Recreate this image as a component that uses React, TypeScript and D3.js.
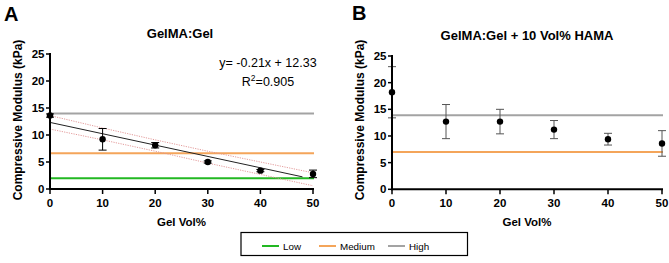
import React from "react";
import * as d3 from "d3";

const gelVol = [0, 10, 20, 30, 40, 50];
const meanA = [13.6, 9.2, 8.1, 5.0, 3.4, 2.8];
const errA = [0.3, 2.0, 0.5, 0.2, 0.2, 0.7];
const ciUpperA = [13.6, 11.3, 9.1, 7.0, 5.0, 3.0];
const ciLowerA = [11.1, 9.1, 7.0, 4.8, 2.7, 0.6];
const fitSlope = -0.21;
const fitIntercept = 12.33;
const fitRange = [0, 48];
const meanB = [18.2, 12.7, 12.7, 11.2, 9.4, 8.6];
const errB = [4.8, 3.2, 2.3, 1.7, 1.1, 2.4];
const refA = { Low: 2.0, Medium: 6.6, High: 14.0 };
const refB = { Medium: 7.0, High: 13.9 };
const yTicks = [0, 5, 10, 15, 20, 25];
const xTicks = [0, 10, 20, 30, 40, 50];
const legendItems = ["Low", "Medium", "High"];
const colors: Record<string, string> = { Low: "#22b822", Medium: "#f4a55a", High: "#a3a3a3" };

const FONT = "'Liberation Sans', Arial, sans-serif";

function Panel({ x0, x1, y0, y1, title, titleX, titleY, letter, letterX, letterY, means, errs, errColor, refs, showFit }: any) {
  const x = d3.scaleLinear().domain([0, 50]).range([x0, x1]);
  const y = d3.scaleLinear().domain([0, 25]).range([y0, y1]);
  const line = d3.line<number>().x((_, i) => x(gelVol[i])).y((d) => y(d));
  const labelX = x0 - 28;
  return (
    <g fontFamily={FONT}>
      <text x={letterX} y={letterY} fontSize={20} fontWeight="bold">{letter}</text>
      <text x={titleX} y={titleY} fontSize={13} fontWeight="bold" textAnchor="middle">{title}</text>
      {Object.entries(refs).map(([k, v]: any) => (
        <line key={k} x1={x(0)} x2={x(50) + 1} y1={y(v)} y2={y(v)} stroke={colors[k]} strokeWidth={2} />
      ))}
      {showFit && (
        <g>
          <path d={line(ciUpperA) || ""} fill="none" stroke="#e09090" strokeWidth={0.9} strokeDasharray="1.2,1.2" />
          <path d={line(ciLowerA) || ""} fill="none" stroke="#e09090" strokeWidth={0.9} strokeDasharray="1.2,1.2" />
          <line x1={x(fitRange[0])} x2={x(fitRange[1])} y1={y(fitIntercept + fitSlope * fitRange[0])} y2={y(fitIntercept + fitSlope * fitRange[1])} stroke="#222" strokeWidth={1} />
          <text x={268} y={66.5} fontSize={12.5} textAnchor="middle">y= -0.21x + 12.33</text>
          <text x={268} y={85.5} fontSize={12.5} textAnchor="middle">R<tspan fontSize={8.5} dy={-5}>2</tspan><tspan dy={5}>=0.905</tspan></text>
        </g>
      )}
      {means.map((m: number, i: number) => {
        const cx = x(gelVol[i]);
        const e = errs[i];
        return (
          <g key={i}>
            <line x1={cx} x2={cx} y1={y(m - e)} y2={y(m + e)} stroke={errColor} strokeWidth={1} />
            <line x1={cx - 4} x2={cx + 4} y1={y(m - e)} y2={y(m - e)} stroke={errColor} strokeWidth={1} />
            <line x1={cx - 4} x2={cx + 4} y1={y(m + e)} y2={y(m + e)} stroke={errColor} strokeWidth={1} />
            <circle cx={cx} cy={y(m)} r={3.2} fill="#000" />
          </g>
        );
      })}
      <line x1={x0} x2={x0} y1={y0 + 1} y2={y1 - 1} stroke="#000" strokeWidth={2} />
      <line x1={x0 - 1} x2={x1 + 1} y1={y0} y2={y0} stroke="#000" strokeWidth={2} />
      {yTicks.map((t) => (
        <g key={t}>
          <line x1={x0 - 4} x2={x0} y1={y(t)} y2={y(t)} stroke="#000" strokeWidth={1.5} />
          <text x={x0 - 5.5} y={y(t) + 4} fontSize={11.5} fontWeight="bold" textAnchor="end">{t}</text>
        </g>
      ))}
      {xTicks.map((t) => (
        <g key={t}>
          <line x1={x(t)} x2={x(t)} y1={y0} y2={y0 + 5} stroke="#000" strokeWidth={1.5} />
          <text x={x(t)} y={y0 + 17.5} fontSize={11.5} fontWeight="bold" textAnchor="middle">{t}</text>
        </g>
      ))}
      <text x={(x0 + x1) / 2} y={y0 + 37} fontSize={11.5} fontWeight="bold" textAnchor="middle">Gel Vol%</text>
      <text transform={`translate(${labelX},120) rotate(-90)`} fontSize={12} fontWeight="bold" textAnchor="middle">Compressive Modulus (kPa)</text>
    </g>
  );
}

export default function App() {
  return (
    <svg width={669} height={263} style={{ position: "absolute", left: 0, top: 0, background: "#fff" }}>
      <rect width={669} height={263} fill="#fff" />
      <Panel x0={50} x1={313} y0={189} y1={54} title="GelMA:Gel" titleX={180} titleY={38} letter="A" letterX={4} letterY={21}
        means={meanA} errs={errA} errColor="#000" refs={refA} showFit />
      <Panel x0={392} x1={662} y0={189.3} y1={56} title="GelMA:Gel + 10 Vol% HAMA" titleX={527} titleY={39.5} letter="B" letterX={352} letterY={19.5}
        means={meanB} errs={errB} errColor="#555" refs={refB} showFit={false} />
      <g fontFamily={FONT}>
        <rect x={241} y={232.5} width={226.5} height={23} fill="#fff" stroke="#000" strokeWidth={1.2} />
        {legendItems.map((k, i) => {
          const lx = [262, 319, 388][i];
          return (
            <g key={k}>
              <line x1={lx} x2={lx + 17} y1={246} y2={246} stroke={colors[k]} strokeWidth={2} />
              <text x={lx + 21} y={249.5} fontSize={9.8}>{k}</text>
            </g>
          );
        })}
      </g>
    </svg>
  );
}
